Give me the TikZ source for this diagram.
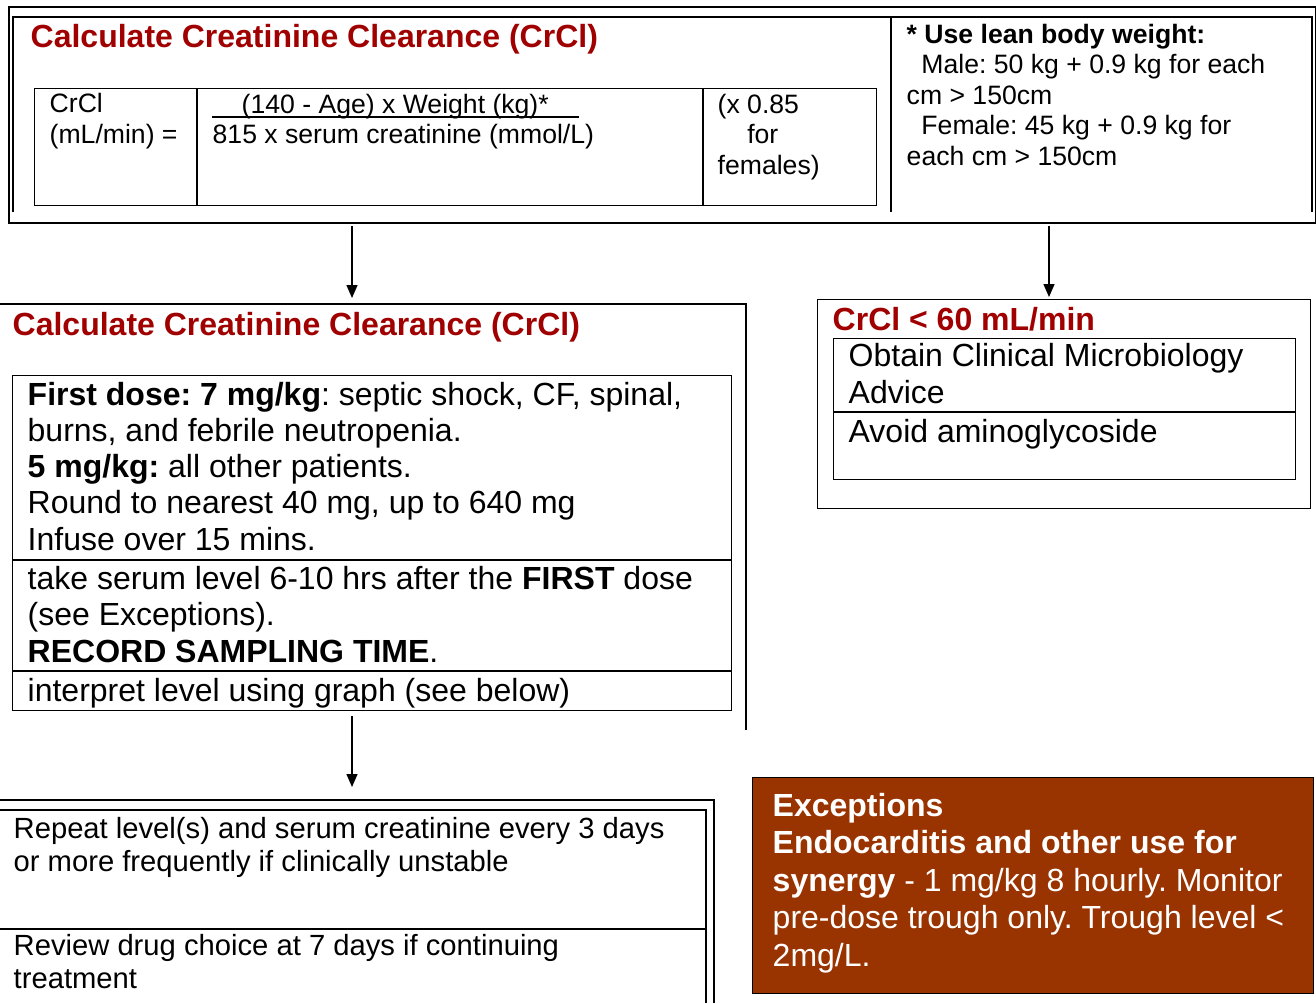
\documentclass[tikz,border=0pt]{standalone}
\usepackage{fontspec}
\setmainfont{Liberation Sans}
\usetikzlibrary{arrows.meta,positioning}
\definecolor{crRed}{RGB}{160,0,0}
\definecolor{crBrown}{RGB}{153,51,0}
\frenchspacing

\begin{document}
\begin{tikzpicture}[x=0.5pt,y=-0.5pt,line width=0.7pt,
    box/.style={draw,inner sep=0pt,anchor=north west},
    txt/.style={anchor=base west,inner sep=0pt,align=left},
    big/.style={font=\fontsize{16}{18.1}\selectfont},
    mid/.style={font=\fontsize{14.6}{16.5}\selectfont},
    small/.style={font=\fontsize{13.3}{15.25}\selectfont},
    ttl/.style={font=\fontsize{16}{18}\selectfont\bfseries,text=crRed},
    arr/.style={-{Triangle[length=6.5pt,width=5.5pt]}}]
  \useasboundingbox (0,0) rectangle (1316,1003);

  % top: formula and lean body weight
  % (multi-line texts sit on the baseline of their last line)
  \node[box,line width=1pt,minimum width=653.5pt,minimum height=108pt] (calc) at (8,6) {};
  \draw (13,212) -- (13,17) -- (1312,17) -- (1312,212);
  \draw (891,17) -- (891,212);
  \node[ttl,txt] (calcTitle) at (30,47) {Calculate Creatinine Clearance (CrCl)};
  \node[box,minimum width=421pt,minimum height=58.5pt] (frm) at (34,88) {};
  \draw (197,88) -- (197,205);
  \draw (703,88) -- (703,205);
  \node[small,txt] (crcl) at (49,143) {CrCl\\(mL/min) =};
  \node[small,txt] (num) at (241,113) {(140 - Age) x Weight (kg)*};
  \draw (212,117) -- (579,117);
  \node[small,txt] (den) at (212,143) {815 x serum creatinine (mmol/L)};
  \node[small,txt] (fem) at (717,174) {(x 0.85\\\ \ \ \ for\\females)};
  \node[small,txt] (lean) at (906,165) {\textbf{* Use lean body weight:}\\
    \ \ Male: 50 kg + 0.9 kg for each\\cm > 150cm\\
    \ \ Female: 45 kg + 0.9 kg for\\each cm > 150cm};

  % middle left: dosing
  \draw (0,304) -- (746,304) -- (746,730);
  \node[ttl,txt] (doseTitle) at (12,335) {Calculate Creatinine Clearance (CrCl)};
  \node[box,minimum width=359.5pt,minimum height=167.5pt] (dose) at (12,375) {};
  \foreach \y in {560,671}
    \draw (dose.west |- 0,\y) -- (dose.east |- 0,\y);
  \node[big,txt] (first) at (27,550) {\textbf{First dose: 7 mg/kg}: septic shock, CF, spinal,\\
    burns, and febrile neutropenia.\\\textbf{5 mg/kg:} all other patients.\\
    Round to nearest 40 mg, up to 640 mg\\Infuse over 15 mins.};
  \node[big,txt] (level) at (27,662) {take serum level 6-10 hrs after the \textbf{FIRST} dose\\
    (see Exceptions).\\\textbf{RECORD SAMPLING TIME}.};
  \node[big,txt] (graph) at (27,701) {interpret level using graph (see below)};

  % middle right: low clearance
  \node[box,minimum width=246.5pt,minimum height=104.5pt] (low) at (817,299) {};
  \node[ttl,txt] (lowTitle) at (832,330) {CrCl < 60 mL/min};
  \node[box,minimum width=231pt,minimum height=70.5pt] (advice) at (833,338) {};
  \draw (advice.west |- 0,412) -- (advice.east |- 0,412);
  \node[big,txt] (micro) at (848,403) {Obtain Clinical Microbiology\\Advice};
  \node[big,txt] (avoid) at (848,442) {Avoid aminoglycoside};

  % bottom left: repeat and review
  \draw (0,800) -- (714,800) -- (714,1003);
  \draw (0,810) -- (706,810) -- (706,1003);
  \draw (0,929) -- (706,929);
  \node[mid,txt] (repeat) at (13,871) {Repeat level(s) and serum creatinine every 3 days\\
    or more frequently if clinically unstable};
  \node[mid,txt] (review) at (13,988) {Review drug choice at 7 days if continuing\\treatment};

  % bottom right: exceptions
  \node[box,fill=crBrown,minimum width=280.5pt,minimum height=108pt] (exc) at (752,777) {};
  \node[txt,text=white,font=\fontsize{16}{18.75}\selectfont] (excText) at (772,966)
    {\textbf{Exceptions}\\\textbf{Endocarditis and other use for}\\
    \textbf{synergy} - 1 mg/kg 8 hourly. Monitor\\pre-dose trough only. Trough level <\\2mg/L.};

  % arrows
  \coordinate (a1) at (352,226);
  \coordinate (b1) at (352,298);
  \coordinate (a2) at (1049,226);
  \coordinate (b2) at (1049,297);
  \coordinate (a3) at (352,716);
  \coordinate (b3) at (352,787);
  \draw[arr] (a1) -- (b1);
  \draw[arr] (a2) -- (b2);
  \draw[arr] (a3) -- (b3);
\end{tikzpicture}
\end{document}
